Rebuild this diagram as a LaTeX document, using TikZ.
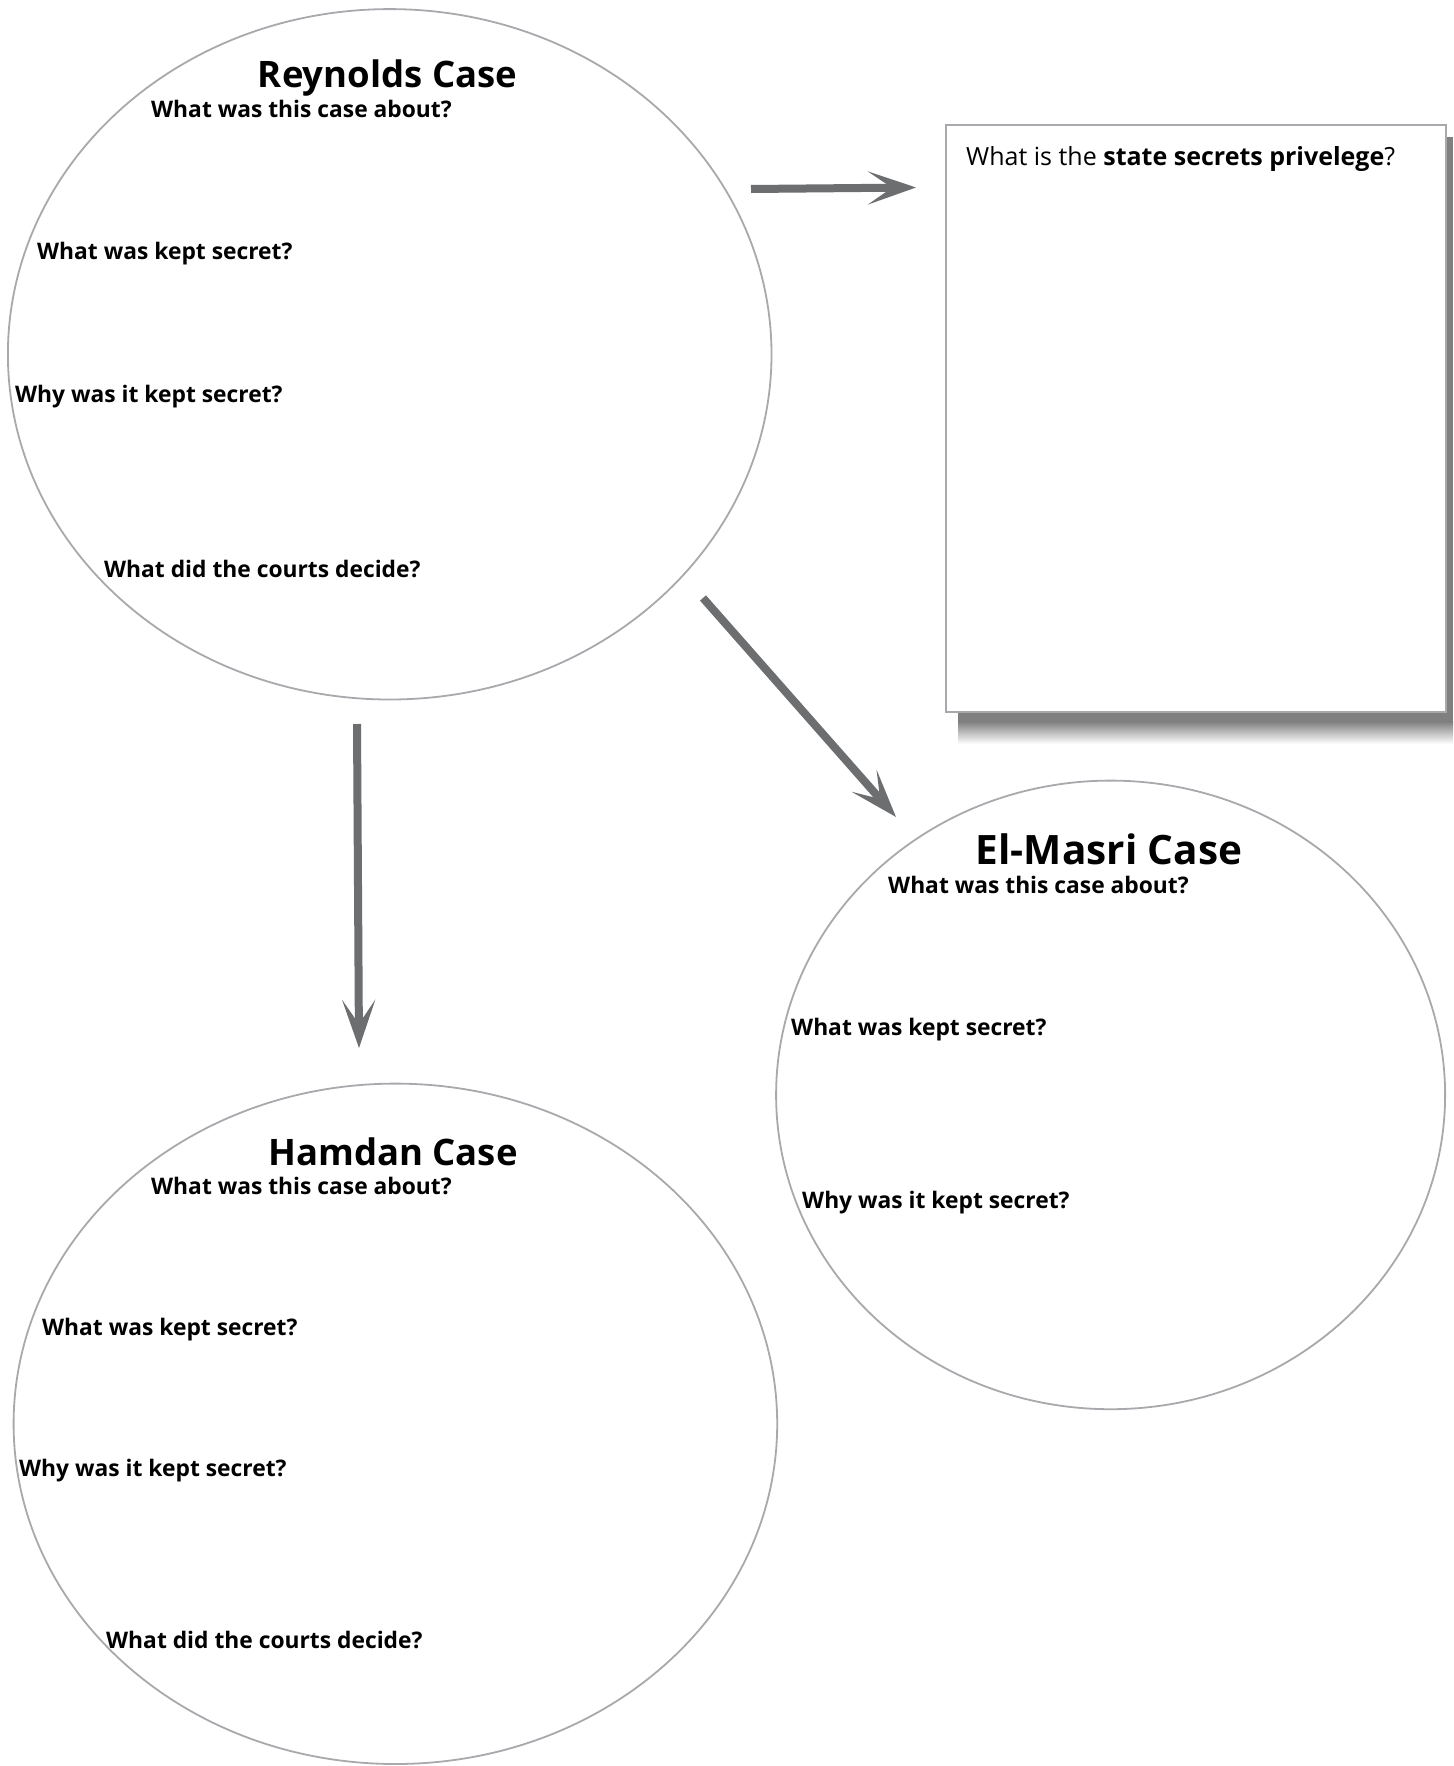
\documentclass[tikz,border=0pt]{standalone}
\usepackage{fontspec}
\setmainfont{Open Sans}
\usetikzlibrary{arrows.meta,shapes.geometric}
\definecolor{arrowgray}{HTML}{6D6E70}
\definecolor{linegray}{HTML}{A7A9AC}
\definecolor{shadowgray}{HTML}{808080}
\begin{document}
\begin{tikzpicture}[x=1pt,y=-1pt,
  case/.style={ellipse, draw=linegray, line width=1.8pt, inner sep=0pt},
  casetitle/.style={font=\bfseries\fontsize{36.5}{42}\selectfont, inner sep=0pt},
  question/.style={font=\bfseries\fontsize{22.8}{27}\selectfont, anchor=west, inner sep=0pt},
  flow/.style={draw=arrowgray, line width=8pt, -{Stealth[length=48pt,width=33pt,inset=24pt]}}
]
\useasboundingbox (0,0) rectangle (1453,1766);
\fill[white] (0,0) rectangle (1453,1766);

% ---- box with shadow ----
\fill[shadowgray] (958,137) rectangle (1453,722);
\shade[top color=shadowgray, bottom color=white] (958,721.5) rectangle (1453,744);
\node[draw=linegray, line width=2.5pt, fill=white, minimum width=500pt, minimum height=587pt, inner sep=0pt] (box) at (1196,418.5) {};
\node[anchor=west, inner sep=0pt, font=\fontsize{25}{30}\selectfont] (boxq) at (966,159) {What is the \textbf{state secrets privelege}?};

% ---- Reynolds ----
\node[case, minimum width=763.6pt, minimum height=690.4pt] (rey) at (389.7,354.3) {};
\node[casetitle] (reyt) at (387.5,78.5) {Reynolds Case};
\node[question] (rq1) at (151,109) {What was this case about?};
\node[question] (rq2) at (37,254) {What was kept secret?};
\node[question] (rq3) at (15,397) {Why was it kept secret?};
\node[question] (rq4) at (104,569) {What did the courts decide?};

% ---- El-Masri ----
\node[case, minimum width=669pt, minimum height=628.6pt] (elm) at (1110.6,1094.9) {};
\node[casetitle, font=\bfseries\fontsize{40.5}{46}\selectfont] (elmt) at (1109,849) {El-Masri Case};
\node[question] (eq1) at (888,885) {What was this case about?};
\node[question] (eq2) at (791,1030) {What was kept secret?};
\node[question] (eq3) at (802,1203) {Why was it kept secret?};

% ---- Hamdan ----
\node[case, minimum width=763.6pt, minimum height=680.4pt] (ham) at (395.4,1423.8) {};
\node[casetitle] (hamt) at (393,1152) {Hamdan Case};
\node[question] (hq1) at (151,1186) {What was this case about?};
\node[question] (hq2) at (42,1330) {What was kept secret?};
\node[question] (hq3) at (19,1471) {Why was it kept secret?};
\node[question] (hq4) at (106,1640) {What did the courts decide?};

% ---- connectors ----
\coordinate (a1s) at (751,189);
\coordinate (a1e) at (916,187.5);
\coordinate (a2s) at (703,598);
\coordinate (a2e) at (896,817);
\coordinate (a3s) at (357,724);
\coordinate (a3e) at (359,1048);
\draw[flow] (a1s) -- (a1e);
\draw[flow] (a2s) -- (a2e);
\draw[flow] (a3s) -- (a3e);
\end{tikzpicture}
\end{document}
